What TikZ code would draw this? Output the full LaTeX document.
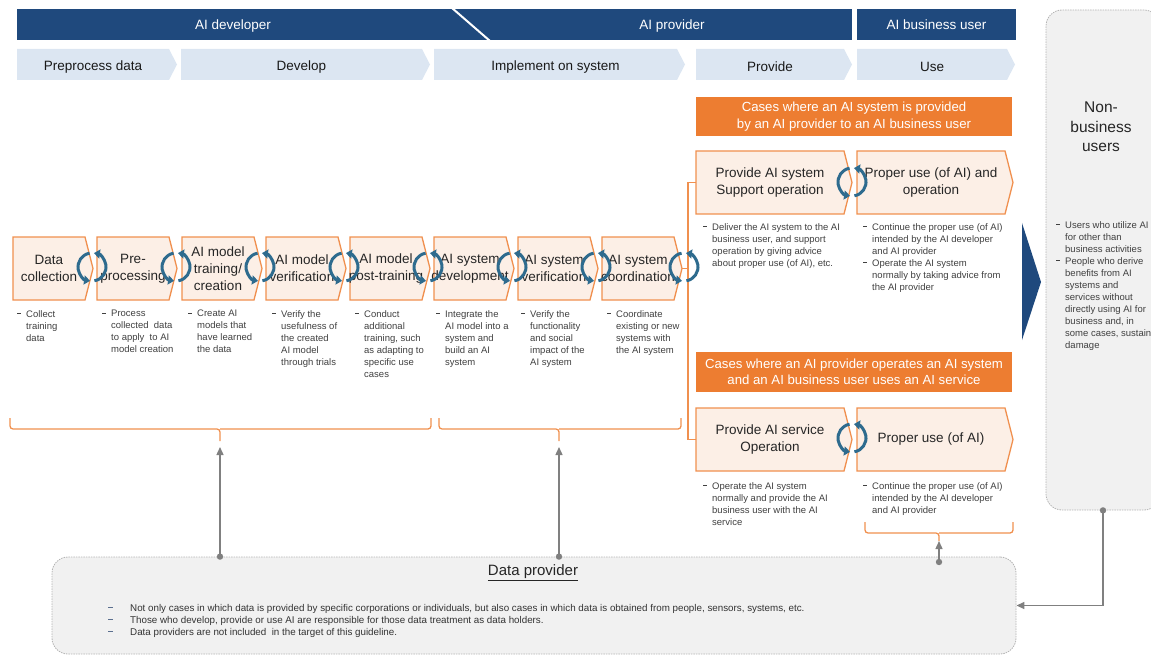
\documentclass[tikz,border=0pt]{standalone}
\usepackage{fontspec}
\setmainfont{Liberation Sans}
\usepackage{xcolor}
\usepackage{tikz}
\usetikzlibrary{arrows.meta, positioning}

\definecolor{hdrblue}{HTML}{1F497D}
\definecolor{phaseblue}{HTML}{DCE6F2}
\definecolor{caseorange}{HTML}{ED7D31}
\definecolor{boxfill}{HTML}{FCEFE6}
\definecolor{boxline}{HTML}{F0904F}
\definecolor{cycblue}{HTML}{2E6B8E}
\definecolor{panelfill}{HTML}{F1F1F1}
\definecolor{panelline}{HTML}{B4B4B4}
\definecolor{linegray}{HTML}{808080}
\definecolor{txtgray}{HTML}{404040}
\definecolor{dashblue}{HTML}{5B6F8F}

\tikzset{
  hdrbar/.style={fill=hdrblue, text=white, font=\fontsize{13.5}{16}\selectfont, minimum height=31, inner sep=0},
  hdrtext/.style={text=white, font=\fontsize{13.5}{16}\selectfont, inner sep=0},
  phasebox/.style={fill=phaseblue},
  phasetext/.style={font=\fontsize{13.5}{16}\selectfont, text=black!90, inner sep=0, yshift=-2.5pt},
  procbox/.style={fill=boxfill, draw=boxline, line width=1.3pt},
  proctext/.style={font=\fontsize{13.5}{17}\selectfont, align=center, inner sep=0, text=black!85},
  casebox/.style={fill=caseorange, text=white, align=center, font=\fontsize{13.2}{16.5}\selectfont, inner sep=0},
  desc/.style={anchor=north west, align=left, inner sep=0, text=txtgray, font=\fontsize{9.5}{12}\selectfont},
  dptext/.style={anchor=north west, align=left, inner sep=0, text=black!80, font=\fontsize{9.8}{12}\selectfont},
  cycarrow/.style={draw=cycblue, line width=3pt, -{Triangle[length=6pt,width=9pt]}},
  bracket/.style={draw=boxline, line width=1.3pt, rounded corners=3pt},
  orline/.style={draw=boxline, line width=1.3pt},
  panel/.style={fill=panelfill, draw=panelline, dash pattern=on 1.5pt off 1pt, rounded corners=16pt, line width=0.8pt},
  feed/.style={draw=linegray, line width=1.4pt, -{Triangle[length=8pt,width=7pt]}},
}

\newcommand{\dsh}{\llap{\rule[2.7pt]{4pt}{1.2pt}\hspace{5pt}}}
\newcommand{\dshw}{\llap{\textcolor{dashblue}{\rule[3pt]{5pt}{1pt}}\hspace{17pt}}}
\newcommand{\chevd}{8}
\newcommand{\chev}[8]{%
  \path[#1] (#4,#5) -- (#6-\chevd,#5) -- (#6,{(#5+#7)/2}) -- (#6-\chevd,#7) -- (#4,#7) -- cycle;
  \coordinate (#3tip) at (#6,{(#5+#7)/2});
  \node[#2, minimum width=#6-\chevd-#4, minimum height=#7-#5] (#3) at ({(#4+#6-\chevd)/2},{(#5+#7)/2}) {#8};}
\newcommand{\cyc}[2]{%
  \draw[cycarrow] ([shift={(#1,#2)}]-100:14) arc[start angle=-100, end angle=-262, radius=14];
  \draw[cycarrow] ([shift={(#1,#2)}]80:14) arc[start angle=80, end angle=-82, radius=14];}

\begin{document}
\begin{tikzpicture}[x=1pt, y=-1pt]
  \useasboundingbox (0,0) rectangle (1151,655);

  \node[hdrbar, minimum width=835] (devbar) at (434.5,24.5) {};
  \node[hdrbar, minimum width=159] (userbar) at (936.5,24.5) {AI business user};
  \draw[white, line width=2pt] (452,8) -- (490,41);
  \node[hdrtext] (devt) at (233,26) {AI developer};
  \node[hdrtext] (provt) at (672,26) {AI provider};

  \chev{phasebox}{phasetext}{ph1}{17}{49}{177}{80}{Preprocess data}
  \chev{phasebox}{phasetext}{ph2}{181}{49}{430}{80}{Develop}
  \chev{phasebox}{phasetext}{ph3}{434}{49}{685}{80}{Implement on system}
  \chev{phasebox}{phasetext}{ph4}{696}{49}{852}{80}{Provide}
  \chev{phasebox}{phasetext}{ph5}{857}{49}{1015}{80}{Use}

  \node[casebox, minimum width=316, minimum height=39] (c1) at (854,116.5) {Cases where an AI system is provided\\by an AI provider to an AI business user};
  \node[casebox, minimum width=316, minimum height=40] (c2) at (854,372) {Cases where an AI provider operates an AI system\\and an AI business user uses an AI service};

  \coordinate (spine) at (688,0);
  \chev{procbox}{proctext}{p1}{696}{151}{852}{214}{Provide AI system\\Support operation}
  \chev{procbox}{proctext}{p2}{857}{151}{1013}{214}{Proper use (of AI) and\\operation}
  \chev{procbox}{proctext}{p3}{696}{408}{852}{471}{Provide AI service\\Operation}
  \chev{procbox}{proctext}{p4}{857}{408}{1013}{471}{Proper use (of AI)}
  \draw[orline] (p1.west) -- (p1.west -| spine) -- (p3.west -| spine) -- (p3.west);

  \chev{procbox}{proctext}{b1}{13}{237}{93}{300}{Data\\collection}
  \chev{procbox}{proctext}{b2}{97}{237}{177}{300}{Pre-\\processing}
  \chev{procbox}{proctext}{b3}{182}{237}{262}{300}{AI model\\training/\\creation}
  \chev{procbox}{proctext}{b4}{266}{237}{346}{300}{AI model\\verification}
  \chev{procbox}{proctext}{b5}{350}{237}{430}{300}{AI model\\post-training}
  \chev{procbox}{proctext}{b6}{434}{237}{514}{300}{AI system\\development}
  \chev{procbox}{proctext}{b7}{518}{237}{598}{300}{AI system\\verification}
  \chev{procbox}{proctext}{b8}{602}{237}{682}{300}{AI system\\coordination}
  \draw[orline] (b8tip) -- (b8tip -| spine);

  \cyc{92}{267}
  \cyc{176}{267}
  \cyc{260}{267}
  \cyc{344}{267}
  \cyc{428}{267}
  \cyc{512}{267}
  \cyc{596}{267}
  \cyc{684}{267}
  \cyc{852}{182}
  \cyc{852}{438}

  \node[desc] (d1) at (26,310) {\dsh Collect\\training\\data};
  \node[desc] (d2) at (111,310) {\dsh Process\\collected\ \ data\\to apply\ \ to AI\\model creation};
  \node[desc] (d3) at (197,310) {\dsh Create AI\\models that\\have learned\\the data};
  \node[desc] (d4) at (281,310) {\dsh Verify the\\usefulness of\\the created\\AI model\\through trials};
  \node[desc] (d5) at (364,310) {\dsh Conduct\\additional\\training, such\\as adapting to\\specific use\\cases};
  \node[desc] (d6) at (445,310) {\dsh Integrate the\\AI model into a\\system and\\build an AI\\system};
  \node[desc] (d7) at (530,310) {\dsh Verify the\\functionality\\and social\\impact of the\\AI system};
  \node[desc] (d8) at (616,310) {\dsh Coordinate\\existing or new\\systems with\\the AI system};
  \node[desc] (d9) at (712,223) {\dsh Deliver the AI system to the AI\\business user, and support\\operation by giving advice\\about proper use (of AI), etc.};
  \node[desc] (d10) at (872,223) {\dsh Continue the proper use (of AI)\\intended by the AI developer\\and AI provider\\\dsh Operate the AI system\\normally by taking advice from\\the AI provider};
  \node[desc] (d11) at (712,482) {\dsh Operate the AI system\\normally and provide the AI\\business user with the AI\\service};
  \node[desc] (d12) at (872,482) {\dsh Continue the proper use (of AI)\\intended by the AI developer\\and AI provider};

  \draw[bracket] (10,418) |- (220,429) -- (220,441);
  \draw[bracket] (220,429) -| (431,418);
  \draw[bracket] (439,418) |- (559,429) -- (559,441);
  \draw[bracket] (559,429) -| (681,418);
  \draw[bracket] (865,522) |- (939,533) -- (939,541);
  \draw[bracket] (939,533) -| (1013,522);
  \coordinate (devin) at (220,447);
  \coordinate (impin) at (559,447);
  \coordinate (usein) at (939,541);

  \fill[hdrblue] (1022,223) -- (1041,282) -- (1022,340) -- cycle;

  \node[panel, minimum width=114, minimum height=500] (nb) at (1103,260) {};
  \node[font=\fontsize{15.5}{19.5}\selectfont, align=center, text=black!85] (nbt) at (1101,127) {Non-\\business\\users};
  \node[desc] (d13) at (1065,221) {\dsh Users who utilize AI\\for other than\\business activities\\\dsh People who derive\\benefits from AI\\systems and\\services without\\directly using AI for\\business and, in\\some cases, sustain\\damage};

  \node[panel, minimum width=964, minimum height=97] (dp) at (534,605.5) {};
  \node[font=\fontsize{15}{18}\selectfont, text=black!85] (dpt) at (533,573) {\underline{Data provider}};
  \node[dptext] (dpb) at (130,604) {\dshw Not only cases in which data is provided by specific corporations or individuals, but also cases in which data is obtained from people, sensors, systems, etc.\\\dshw Those who develop, provide or use AI are responsible for those data treatment as data holders.\\\dshw Data providers are not included\ \ in the target of this guideline.};

  \fill[linegray] (devin |- dp.north) circle (3.2);
  \draw[feed] (devin |- dp.north) -- (devin);
  \fill[linegray] (impin |- dp.north) circle (3.2);
  \draw[feed] (impin |- dp.north) -- (impin);
  \fill[linegray] (939,562) circle (3.2);
  \draw[feed] (939,562) -- (usein);
  \fill[linegray] (nb.south) circle (3.2);
  \draw[feed] (nb.south) |- (dp.east);
\end{tikzpicture}
\end{document}
